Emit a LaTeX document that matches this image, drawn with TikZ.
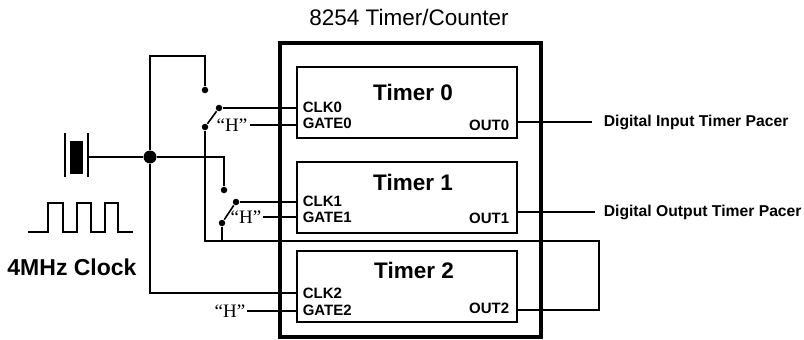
\documentclass[tikz,border=0pt]{standalone}
\usepackage{fontspec}
\setmainfont{Liberation Sans}
\newfontfamily\hfont{Liberation Serif}
\tikzset{
	timer/.style={draw, line width=2pt, minimum width=220pt, minimum height=71pt, inner sep=0pt},
	pin/.style={font=\bfseries\fontsize{15}{15}\selectfont, inner sep=0pt},
	contact/.style={circle, fill, inner sep=0pt, minimum size=6.5pt},
	hmark/.style={font=\hfont\fontsize{19}{19}\selectfont, inner sep=0pt, anchor=east}
}
\begin{document}
\begin{tikzpicture}[x=1pt, y=-1pt, line width=1.6pt]
			\useasboundingbox (0,0) rectangle (804,340);

			% chip and timers
			\node(title) at (409,17) {\fontsize{22.5}{22.5}\selectfont 8254 Timer/Counter};
			\draw[line width=4pt] (280,43) rectangle (541,337);
			\node(t0) [timer] at (407,102.5) {};
			\node(t1) [timer] at (407,197.5) {};
			\node(t2) [timer] at (407,286.5) {};
			\node(n0) at (413,92) {\bfseries\fontsize{22.5}{22.5}\selectfont Timer 0};
			\node(n1) at (413,182) {\bfseries\fontsize{22.5}{22.5}\selectfont Timer 1};
			\node(n2) at (414,270) {\bfseries\fontsize{22.5}{22.5}\selectfont Timer 2};

			\node(c0) [pin, anchor=west] at (302,107) {CLK0};
			\node(g0) [pin, anchor=west] at (302,123) {GATE0};
			\node(q0) [pin, anchor=east] at (510,125) {OUT0};
			\node(c1) [pin, anchor=west] at (302,201) {CLK1};
			\node(g1) [pin, anchor=west] at (302,217) {GATE1};
			\node(q1) [pin, anchor=east] at (510,218) {OUT1};
			\node(c2) [pin, anchor=west] at (302,293) {CLK2};
			\node(g2) [pin, anchor=west] at (302,310) {GATE2};
			\node(q2) [pin, anchor=east] at (510,308) {OUT2};

			\coordinate(o0) at (517,122);
			\coordinate(o1) at (517,212);
			\coordinate(o2) at (517,310);

			% outputs
			\node(din) [pin, font=\bfseries\fontsize{15.7}{15.7}\selectfont, anchor=west] at (603,122) {Digital Input Timer Pacer};
			\node(dout) [pin, font=\bfseries\fontsize{15.7}{15.7}\selectfont, anchor=west] at (603,212) {Digital Output Timer Pacer};
			\draw(o0) -- ([xshift=-11pt]din.west);
			\draw(o1) -- ([xshift=-8pt]dout.west);

			% crystal and clock
			\draw[line width=1.4pt] (65,133) -- (65,177);
			\fill (70,141) rectangle (83,174);
			\draw[line width=1.4pt] (88,133) -- (88,177);
			\coordinate(xtal) at (88,157);
			\draw (28,232) -- (48,232) -- (48,203) -- (63,203) -- (63,232) -- (77,232) -- (77,203)
				-- (91,203) -- (91,232) -- (105,232) -- (105,203) -- (118,203) -- (118,232) -- (133,232);
			\node(clock) at (72,267) {\bfseries\fontsize{23}{23}\selectfont 4MHz Clock};

			\node(jn) [contact, minimum size=13pt] at (150,157) {};
			\coordinate(top) at (150,56);

			% switches
			\node(s0a) [contact] at (205,90) {};
			\node(s0b) [contact] at (219,108) {};
			\node(s0c) [contact] at (205,127) {};
			\node(s1a) [contact] at (224,190) {};
			\node(s1b) [contact] at (236,202) {};
			\node(s1c) [contact] at (222,223) {};

			\node(h0) [hmark] at (248,125) {“H”};
			\node(h1) [hmark] at (262,217) {“H”};
			\node(h2) [hmark] at (246,311) {“H”};

			\draw(xtal) -- (jn);
			\draw(jn) -- (top) -| (s0a);
			\draw(jn) -| (s1a);
			\draw(jn) |- (t2.west |- c2);

			\draw(s0c) -- (s0b);
			\draw(s0b) -- (s0b -| t0.west);
			\draw(s1c) -- (s1b);
			\draw(s1b) -- (s1b -| t1.west);

			\draw([xshift=2pt]h0.east) -- (h0.east -| t0.west);
			\draw([xshift=1pt]h1.east) -- (h1.east -| t1.west);
			\draw([xshift=1pt]h2.east) -- (h2.east -| t2.west);

			% OUT2 feedback
			\coordinate(fb) at (599,241);
			\draw(s0c) |- (fb) |- (o2);
			\draw(s1c) -- (s1c |- fb);
		\end{tikzpicture}
\end{document}
